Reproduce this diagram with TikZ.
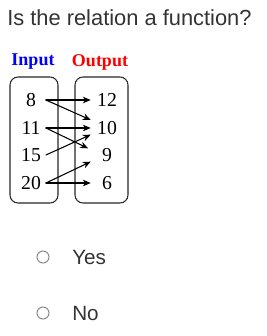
\documentclass[tikz,border=0pt]{standalone}
\usepackage{fontspec}
\setmainfont{Liberation Serif}
\setsansfont{Liberation Sans}
\usepackage{tikz}
\usetikzlibrary{arrows.meta}

\definecolor{txtgray}{HTML}{333333}
\definecolor{radiogray}{HTML}{8A8A8A}

\tikzset{
  inlbl/.style={inner sep=0pt,minimum width=22,minimum height=16,font=\fontsize{14.8}{15}\selectfont},
  outlbl/.style={inner sep=0pt,minimum width=24,minimum height=16,font=\fontsize{14.8}{15}\selectfont},
  headlbl/.style={inner sep=0pt,font=\fontsize{13.5}{14}\selectfont\bfseries},
  setbox/.style={draw=black!85,line width=0.8pt,rounded corners=6pt},
  relarrow/.style={->,line width=0.8pt},
  choice/.style={anchor=west,inner sep=0pt,text=txtgray,font=\sffamily\fontsize{15.5}{16}\selectfont},
}

\begin{document}
\begin{tikzpicture}[x=0.75pt,y=-0.75pt,>={Stealth[length=6pt,width=5pt]},line cap=round]
\useasboundingbox (0,0) rectangle (267,336);
% question
\node[anchor=west,inner sep=0pt,text=txtgray,font=\sffamily\fontsize{16.4}{18}\selectfont] (quest) at (7,18) {Is the relation a function?};
% headings
\node[headlbl,text=blue] (inhead) at (33,62) {Input};
\node[headlbl,text=red] (outhead) at (100,62) {Output};
% the two sets
\draw[setbox] (10,77) rectangle (58,203);
\draw[setbox] (75,77) rectangle (128,203);
\node[inlbl] (i8) at (31,100) {8};
\node[inlbl] (i11) at (31,128) {11};
\node[inlbl] (i15) at (31,155) {15};
\node[inlbl] (i20) at (31,183) {20};
\node[outlbl] (o12) at (107,100) {12};
\node[outlbl] (o10) at (107,128) {10};
\node[outlbl] (o9) at (107,155) {9};
\node[outlbl] (o6) at (107,183) {6};
% mapping
\draw[relarrow] (i8.east) -- (o12.west);
\draw[relarrow] (i8.east) -- ([yshift=6pt]o10.west);
\draw[relarrow] (i11.east) -- (o10.west);
\draw[relarrow] (i11.east) -- ([xshift=-2pt,yshift=5pt]o9.west);
\draw[relarrow] (i15.east) -- ([yshift=-5pt]o10.west);
\draw[relarrow] (i20.east) -- ([yshift=-5pt]o9.west);
\draw[relarrow] (i20.east) -- (o6.west);
% answers
\draw[radiogray,line width=0.8pt] (43,257) circle (6);
\node[choice] (yes) at (72,257) {Yes};
\draw[radiogray,line width=0.8pt] (43,313) circle (6);
\node[choice] (no) at (72,313) {No};
\end{tikzpicture}
\end{document}
